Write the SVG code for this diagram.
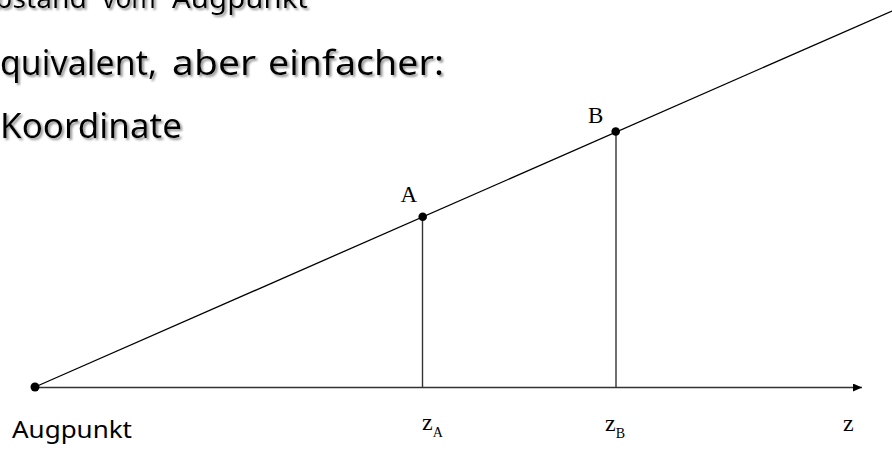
<svg xmlns="http://www.w3.org/2000/svg" width="892" height="451" viewBox="0 0 892 451">
  <defs>
    <style>
      .slide { font-family: "Noto Sans", "DejaVu Sans", sans-serif; fill: #000; }
      .lbl { font-family: "Liberation Serif", "Times New Roman", serif; fill: #000; }
      .ln { stroke: #000; stroke-width: 1.3; fill: none; }
      .vl { stroke: #333; stroke-width: 1.4; fill: none; }
      .dot { fill: #000; }
    </style>
    <filter id="shadow" x="-5%" y="-20%" width="110%" height="150%">
      <feDropShadow dx="2" dy="2" stdDeviation="0.9" flood-color="#8c8c8c" flood-opacity="0.9"/>
    </filter>
    <marker id="arrow" markerWidth="10" markerHeight="8" refX="9" refY="4" orient="auto" markerUnits="userSpaceOnUse">
      <path d="M0,0 L9,4 L0,8 Z" fill="#000"/>
    </marker>
  </defs>
  <rect width="892" height="451" fill="#fff"/>

  <g id="slide-text" filter="url(#shadow)">
    <text class="slide" y="8" font-size="28"><tspan x="-5" textLength="92" lengthAdjust="spacingAndGlyphs">bstand</tspan> <tspan x="102" textLength="54" lengthAdjust="spacingAndGlyphs">vom</tspan> <tspan x="172" textLength="136" lengthAdjust="spacingAndGlyphs">Augpunkt</tspan></text>
    <text class="slide" y="75" font-size="34"><tspan x="0" textLength="157" lengthAdjust="spacingAndGlyphs">quivalent,</tspan> <tspan x="172" textLength="84" lengthAdjust="spacingAndGlyphs">aber</tspan> <tspan x="268" textLength="176" lengthAdjust="spacingAndGlyphs">einfacher:</tspan></text>
    <text class="slide" x="0" y="138" font-size="34" textLength="182" lengthAdjust="spacingAndGlyphs">Koordinate</text>
  </g>

  <g id="connectors">
    <line class="ln" x1="35" y1="387" x2="892" y2="11"/>
    <line class="vl" x1="35" y1="387.5" x2="862" y2="387.5" stroke-width="2" marker-end="url(#arrow)"/>
    <line class="vl" x1="422.5" y1="217" x2="422.5" y2="387"/>
    <line class="vl" x1="616" y1="132" x2="616" y2="387"/>
  </g>

  <g id="augpunkt">
    <circle class="dot" cx="35" cy="387" r="4.5"/>
    <text class="slide" x="12" y="438" font-size="23" textLength="120" lengthAdjust="spacingAndGlyphs">Augpunkt</text>
  </g>

  <g id="pointA">
    <circle class="dot" cx="422.7" cy="216.7" r="4.3"/>
    <text class="lbl" x="400.5" y="201.5" font-size="23">A</text>
  </g>

  <g id="pointB">
    <circle class="dot" cx="615.7" cy="131.5" r="4.3"/>
    <text class="lbl" x="588" y="123" font-size="23">B</text>
  </g>

  <g id="zA">
    <text class="lbl" x="422" y="430" font-size="24">z<tspan font-size="14" dy="7">A</tspan></text>
  </g>

  <g id="zB">
    <text class="lbl" x="605" y="431" font-size="24">z<tspan font-size="14" dy="7">B</tspan></text>
  </g>

  <g id="zaxis">
    <text class="lbl" x="843" y="430.5" font-size="24">z</text>
  </g>
</svg>
